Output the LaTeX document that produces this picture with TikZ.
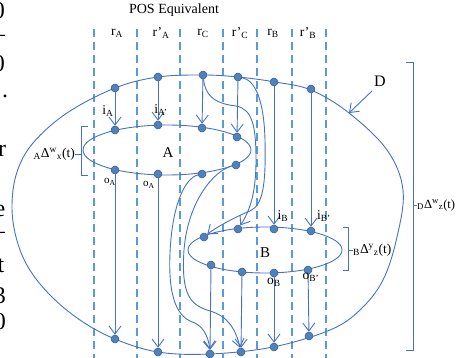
\documentclass[tikz,border=0pt]{standalone}
\usepackage{fontspec}
\setmainfont{Liberation Serif}
\usetikzlibrary{arrows.meta}
\definecolor{linec}{RGB}{68,114,196}
\definecolor{dashc}{RGB}{91,155,213}
\definecolor{nodefill}{RGB}{79,129,189}
\definecolor{nodeedge}{RGB}{56,93,138}
\begin{document}
\begin{tikzpicture}[x=1pt,y=-1pt,
  ln/.style={draw=linec, line width=0.9pt},
  arr/.style={ln, -{Straight Barb[length=8pt,width=12pt]}},
  guide/.style={draw=dashc, line width=1.1pt, dash pattern=on 8pt off 5pt},
  dot/.style={circle, fill=nodefill, draw=nodeedge, line width=0.5pt, inner sep=0pt, minimum size=8pt},
  lab/.style={inner sep=0pt, font=\fontsize{13.5}{15}\selectfont},
  smalllab/.style={inner sep=0pt, font=\fontsize{11}{13}\selectfont},
  biglab/.style={inner sep=0pt, font=\fontsize{15}{17}\selectfont},
  frag/.style={inner sep=0pt, font=\fontsize{24}{28}\selectfont}]
\useasboundingbox (0,0) rectangle (457,358);

% fragments of neighbouring text
\node[frag] (f1) at (-1,11) {0};
\node[frag] (f2) at (-1,38) {–};
\node[frag] (f3) at (-1,64) {0};
\node[frag] (f4) at (5,96) {.};
\node[frag] (f5) at (2,151) {r};
\node[frag] (f6) at (0,211) {e};
\node[frag] (f7) at (-1,235) {–};
\node[frag] (f8) at (1,266) {t};
\node[frag] (f9) at (0,296) {3};
\node[frag] (f10) at (0,322) {0};

% header
\node[lab, font=\fontsize{14}{16}\selectfont] (hdr) at (174,10) {POS Equivalent};
\node[lab] (crA) at (117,33) {r\textsubscript{A}};
\node[lab] (crA2) at (161,33) {r’\textsubscript{A}};
\node[lab] (crC) at (203,33) {r\textsubscript{C}};
\node[lab] (crC2) at (240,33) {r’\textsubscript{C}};
\node[lab] (crB) at (273,33) {r\textsubscript{B}};
\node[lab] (crB2) at (308,33) {r’\textsubscript{B}};

% dashed guides
\foreach \x in {94,137,180,223,257,292,326}
  \draw[guide] (\x,29) -- (\x,358);

% outer process D
\draw[ln] plot[smooth cycle, tension=0.6] coordinates {
 (12,205) (17,172) (33,143) (67,113) (115,88) (158,77) (203,75) (238,77)
 (275,82) (311,90) (349,113) (387,150) (403,190) (397,237) (383,280)
 (360,310) (330,330) (273,347) (210,354) (158,352) (115,339) (80,320)
 (50,295) (28,267) (16,237)};
% inner processes
\draw[ln] (167,150) ellipse [x radius=84, y radius=25];
\draw[ln] (265,250) ellipse [x radius=77, y radius=23];
\node[biglab] (labA) at (168,153) {A};
\node[biglab] (labB) at (265,253) {B};
\node[biglab, font=\fontsize{16}{18}\selectfont] (labD) at (380,81) {D};
\coordinate (Dtail) at (372,91);
\coordinate (Dtip) at (349,113);
\draw[arr] (Dtail) -- (Dtip);

% braces
\draw[ln] (88,126) -- (81,126) -- (81,175) -- (88,175);
\coordinate (bAm) at (81,154); \coordinate (bAt) at (75,154);
\draw[ln] (bAm) -- (bAt);
\node[lab, anchor=east] (lAd) at (bAt) {\textsubscript{A}Δ\textsuperscript{w}\textsubscript{x}(t)};
\draw[ln] (343,227) -- (348,227) -- (348,270) -- (343,270);
\coordinate (bBm) at (348,250); \coordinate (bBt) at (353,250);
\draw[ln] (bBm) -- (bBt);
\node[lab, anchor=west] (lBd) at (bBt) {\textsubscript{B}Δ\textsuperscript{y}\textsubscript{z}(t)};
\draw[ln] (406,62) -- (413,62) -- (413,350) -- (406,350);
\coordinate (bDm) at (413,205); \coordinate (bDt) at (417,205);
\draw[ln] (bDm) -- (bDt);
\node[lab, anchor=west, font=\fontsize{12.5}{14}\selectfont] (lDd) at (bDt) {\textsubscript{D}Δ\textsuperscript{w}\textsubscript{z}(t)};

% dots on D
\node[dot] (dTA) at (115,88) {};
\node[dot] (dTA2) at (158,77) {};
\node[dot] (dTC) at (203,75) {};
\node[dot] (dTC2) at (238,77) {};
\node[dot] (dTB) at (274,82) {};
\node[dot] (dTB2) at (311,89) {};
\node[dot] (dBA) at (115,339) {};
\node[dot] (dBA2) at (158,352) {};
\node[dot] (dBC) at (210,354) {};
\node[dot] (dBC2) at (241,352) {};
\node[dot] (dBB) at (274,347) {};
\node[dot] (dBB2) at (309,336) {};
% dots on A
\node[dot] (aTA) at (115,130) {};
\node[dot] (aTA2) at (158,125) {};
\node[dot] (aTC) at (202,128) {};
\node[dot] (aTC2) at (237,137) {};
\node[dot] (aBA) at (115,170) {};
\node[dot] (aBA2) at (158,174) {};
\node[dot] (aBC) at (202,174) {};
\node[dot] (aBC2) at (236,165) {};
% dots on B
\node[dot] (bL) at (204,237) {};
\node[dot] (bT1) at (238,229) {};
\node[dot] (bT2) at (274,229) {};
\node[dot] (bT3) at (311,231) {};
\node[dot] (bB1) at (211,265) {};
\node[dot] (bB2) at (242,272) {};
\node[dot] (bB3) at (274,273) {};
\node[dot] (bB4) at (308,270) {};

% inputs of A
\draw[arr] (dTA) -- (aTA);
\draw[arr] (dTA2) -- (aTA2);
\draw[arr] (dTC) -- (aTC);
\draw[arr] (dTC2) -- (aTC2);
% inputs of B
\draw[arr] (dTB) -- (bT2);
\draw[arr] (dTB2) -- (bT3);
\draw[arr] (dTC) .. controls (206,100) and (220,104) .. (236,106)
      .. controls (252,109) and (256,125) .. (256,160)
      .. controls (256,195) and (249,212) .. (bT1);
\draw[arr] (dTC2) .. controls (255,80) and (264,100) .. (265,140)
      .. controls (266,185) and (263,205) .. (250,211)
      .. controls (235,217) and (215,228) .. (bL);
% outputs of A
\draw[arr] (aBA) -- (dBA);
\draw[arr] (aBA2) -- (dBA2);
\draw[arr] (aBC) .. controls (185,178) and (172,205) .. (170,253)
      .. controls (168,300) and (178,318) .. (195,323)
      .. controls (205,328) and (209,340) .. (dBC);
\draw[arr] (aBC2) .. controls (215,170) and (188,200) .. (184,250)
      .. controls (181,295) and (190,305) .. (210,311)
      .. controls (228,316) and (236,330) .. (dBC2);
% outputs of B
\draw[arr] (bB1) -- (dBC);
\draw[arr] (bB2) -- (dBC2);
\draw[arr] (bB3) -- (dBB);
\draw[arr] (bB4) -- (dBB2);

% port labels
\node[lab] (liA) at (108,111) {i\textsubscript{A}};
\node[lab] (liA2) at (161,110) {i\textsubscript{A’}};
\node[smalllab] (loA) at (110,182) {o\textsubscript{A}};
\node[smalllab] (loA2) at (149,185) {o\textsubscript{A}};
\node[lab] (liB) at (283,216) {i\textsubscript{B}};
\node[lab] (liB2) at (324,216) {i\textsubscript{B’}};
\node[lab] (loB) at (274,282) {o\textsubscript{B}};
\node[lab] (loB2) at (311,277) {o\textsubscript{B’}};
\end{tikzpicture}
\end{document}
